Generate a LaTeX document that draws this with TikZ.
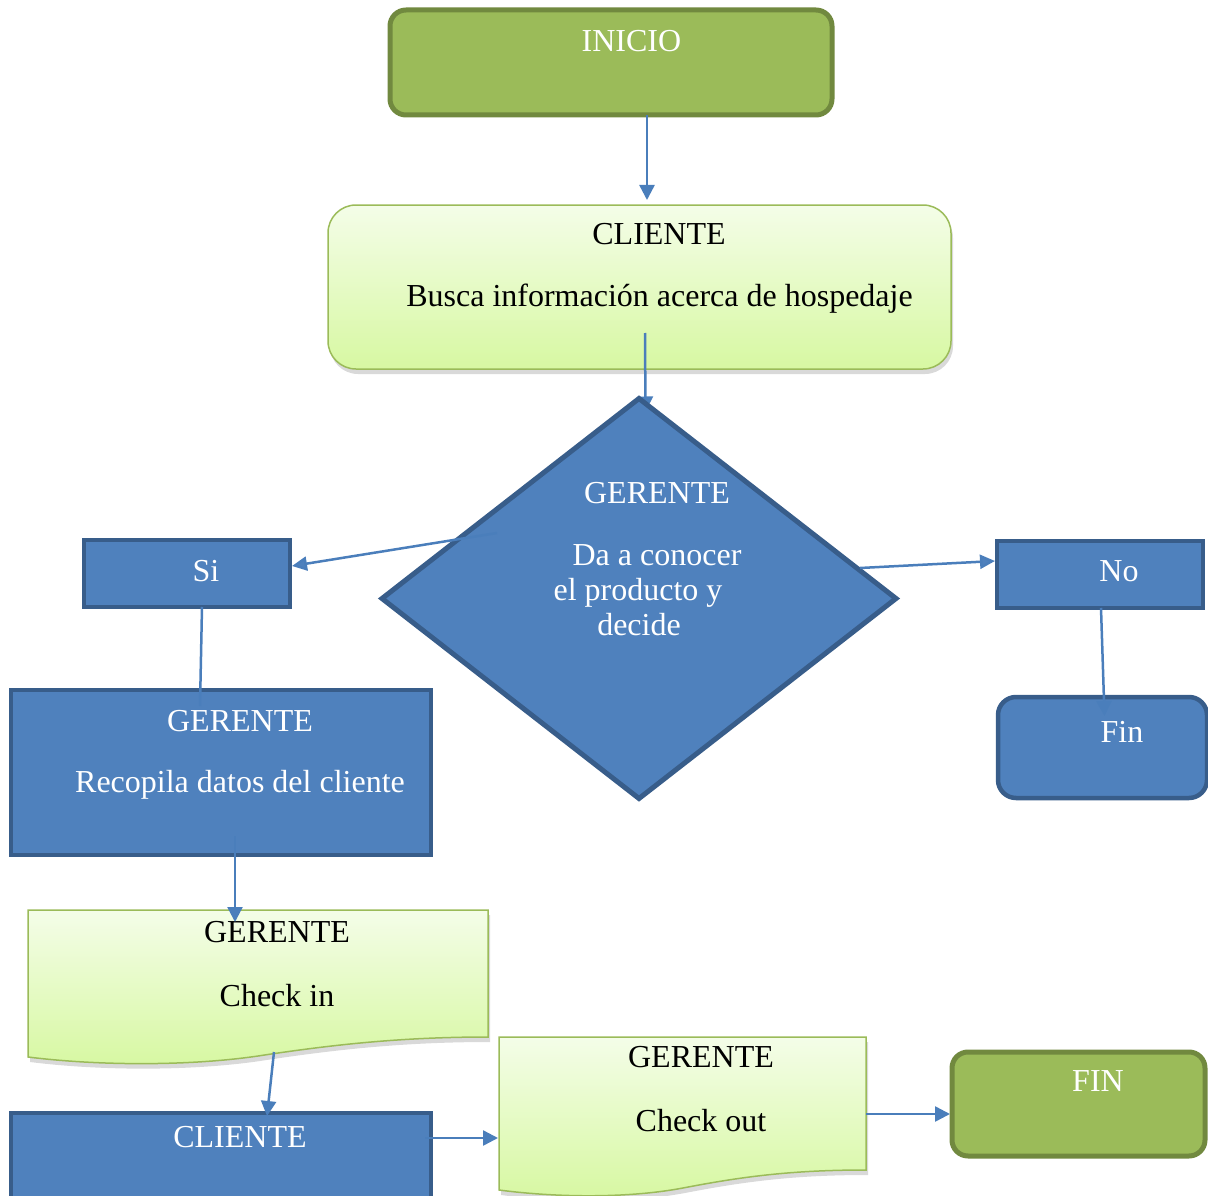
\documentclass[tikz,border=0pt]{standalone}
\usepackage{fontspec}
\setmainfont{Liberation Serif}
\usetikzlibrary{shapes.geometric,arrows.meta,shadows}
\definecolor{bfill}{HTML}{4F81BD}
\definecolor{bdraw}{HTML}{385D8A}
\definecolor{gfill}{HTML}{9BBB59}
\definecolor{gdraw}{HTML}{71893F}
\definecolor{ltop}{HTML}{F4FDE8}
\definecolor{lbot}{HTML}{D7F8A2}
\definecolor{ldraw}{HTML}{9BBB59}
\definecolor{arrc}{HTML}{4A7EBB}
\begin{document}
\begin{tikzpicture}[x=1pt,y=-1pt,
  every node/.style={font=\fontsize{32}{38}\selectfont, inner sep=0pt, outer sep=0pt},
  bluebox/.style={rectangle, fill=bfill, draw=bdraw, line width=4.5pt},
  bluerbox/.style={rectangle, rounded corners=18pt, fill=bfill, draw=bdraw, line width=4.5pt},
  greenbox/.style={rectangle, rounded corners=16pt, fill=gfill, draw=gdraw, line width=5pt},
  lightbox/.style={rectangle, rounded corners=28pt, top color=ltop, bottom color=lbot, draw=ldraw, line width=1.5pt,
    drop shadow={shadow xshift=2pt, shadow yshift=-5pt, opacity=.3}},
  lightdoc/.style={top color=ltop, bottom color=lbot, draw=ldraw, line width=1.5pt,
    drop shadow={shadow xshift=2pt, shadow yshift=-5pt, opacity=.3}},
  holder/.style={rectangle, draw=none},
  wtxt/.style={text=white, anchor=base},
  ktxt/.style={text=black, anchor=base},
  conn/.style={draw=arrc, line width=2.5pt},
  arr/.style={conn, -{Triangle[width=15pt,length=15pt]}},
  oarr/.style={conn, -{Triangle[open,width=14pt,length=15pt,fill=bfill]}},
]
\clip (0,0) rectangle (1208,1196);
\useasboundingbox (0,0) rectangle (1208,1196);

% boxes
\node[greenbox, minimum width=442, minimum height=105] (inicio) at (611,62.5) {};
\node[lightbox, minimum width=623, minimum height=164] (cliente) at (639.5,287) {};

% connector cliente -> diamond (under the diamond)
\draw[arr] ([xshift=5.5pt,yshift=36pt]cliente.south) -- ([xshift=6pt,yshift=-6.5pt]cliente.south |- 0,405);

\node[diamond, fill=bfill, draw=bdraw, line width=5pt, minimum width=514, minimum height=400] (dia) at (639,598.5) {};
\node[bluebox, minimum width=206, minimum height=67] (si) at (187,573.5) {};
\node[bluebox, minimum width=206, minimum height=67] (no) at (1100,574.5) {};
\node[bluerbox, minimum width=209, minimum height=101] (fin) at (1102.5,747.5) {};
\node[bluebox, minimum width=420, minimum height=165] (rec) at (221,772.5) {};

% document shapes
\path[lightdoc] (28,910) -- (488,910) -- (488,1037) .. controls (400,1037) and (330,1045) .. (258,1056)
  .. controls (190,1066) and (100,1066) .. (28,1057) -- cycle;
\node[holder, minimum width=460, minimum height=127] (ci) at (258,973.5) {};

\node[bluebox, minimum width=420, minimum height=92] (cl2) at (221,1159) {};

\path[lightdoc] (499,1037) -- (866,1037) -- (866,1170) .. controls (790,1170) and (740,1177) .. (683,1188)
  .. controls (630,1198) and (560,1198) .. (499,1190) -- cycle;
\node[holder, minimum width=367, minimum height=133] (co) at (682.5,1103.5) {};

\node[greenbox, minimum width=253, minimum height=104] (fin2) at (1078.5,1104) {};

% texts
\node[wtxt] (t1) at (631.5,52) {INICIO};
\node[ktxt] (t2) at (659,244) {CLIENTE};
\node[ktxt] (t3) at (659.5,306) {Busca información acerca de hospedaje};
\node[wtxt] (t4) at (657,503) {GERENTE};
\node[wtxt] (t5) at (657,565) {Da a conocer};
\node[wtxt] (t6) at (638,600) {el producto y};
\node[wtxt] (t7) at (639,635) {decide};
\node[wtxt] (t8) at (206,581) {Si};
\node[wtxt] (t9) at (1119,581) {No};
\node[wtxt] (t10) at (1122,742) {Fin};
\node[wtxt] (t11) at (240,731) {GERENTE};
\node[wtxt] (t12) at (240,792) {Recopila datos del cliente};
\node[ktxt] (t13) at (277,942) {GERENTE};
\node[ktxt] (t14) at (277,1006) {Check in};
\node[wtxt] (t15) at (240,1147) {CLIENTE};
\node[ktxt] (t16) at (701,1067) {GERENTE};
\node[ktxt] (t17) at (701,1131) {Check out};
\node[wtxt] (t18) at (1098,1091) {FIN};

% connectors
\draw[arr] ([xshift=36pt]inicio.south) -- ([xshift=7.5pt,yshift=5pt]cliente.north);
\draw[oarr] ([shift={(-142pt,65.5pt)}]dia.center) -- ([xshift=2pt,yshift=7.5pt]si.east);
\draw[oarr] ([shift={(221pt,30.5pt)}]dia.center) -- ([xshift=-2pt,yshift=13.5pt]no.west);
\draw[arr] ([xshift=1pt]no.south) -- ([xshift=2pt,yshift=-19pt]fin.north);
\draw[conn] ([xshift=15pt]si.south) -- ([xshift=-21pt,yshift=-16pt]rec.north);
\draw[arr] ([xshift=14pt,yshift=19pt]rec.south) -- ([xshift=-23pt,yshift=-12pt]ci.north);
\draw[arr] ([xshift=16pt,yshift=-15pt]ci.south) -- ([xshift=46pt,yshift=-3pt]cl2.north);
\draw[arr] ([xshift=-6pt,yshift=21pt]cl2.east) -- ([xshift=-1pt,yshift=-34.5pt]co.west);
\draw[arr] ([yshift=-10.5pt]co.east) -- ([xshift=-2pt,yshift=-10pt]fin2.west);
\end{tikzpicture}
\end{document}
